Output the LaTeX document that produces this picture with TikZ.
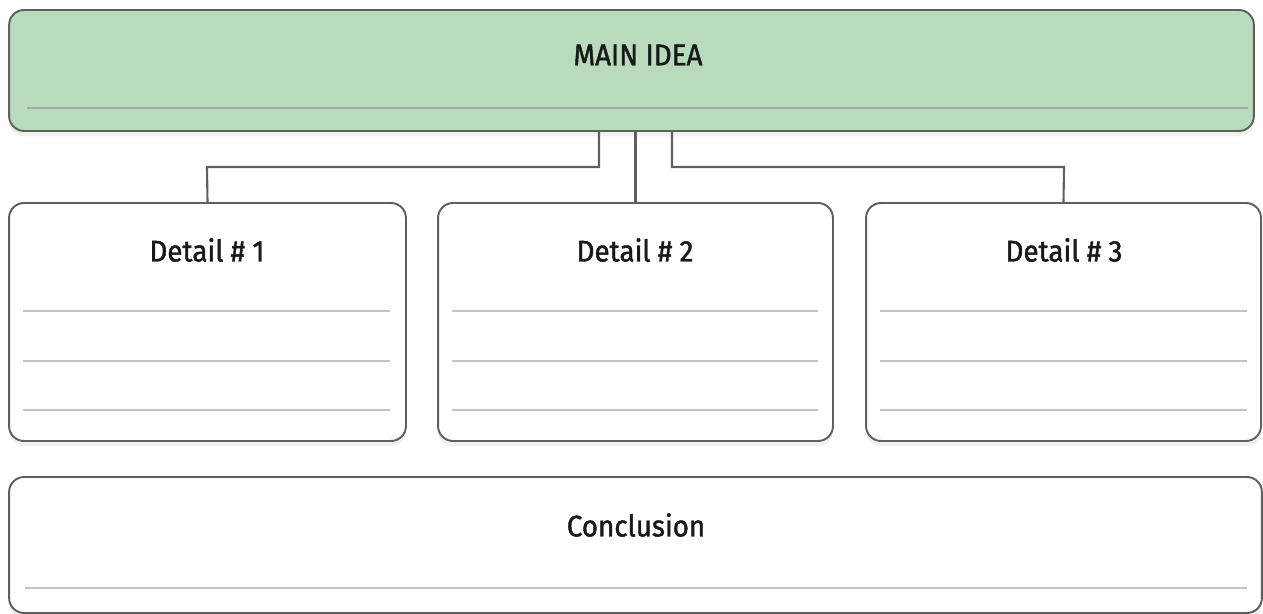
\documentclass[tikz,border=0pt]{standalone}
\usepackage{fontspec}
\setmainfont{Fira Sans}[FakeStretch=0.93, FakeBold=1.6]
\newfontfamily\cardfont{Fira Sans}[FakeStretch=0.93, FakeBold=1.4]
\usetikzlibrary{positioning,shadows}
\definecolor{ideagreen}{HTML}{B8DBBB}
\definecolor{boxline}{HTML}{5F5F5F}
\definecolor{ruleline}{HTML}{C4C4C4}
\tikzset{
  card/.style={draw=boxline, line width=1.1pt, rounded corners=8.5pt, fill=white,
    drop shadow={shadow xshift=0pt, shadow yshift=-3pt, opacity=0.12}, inner sep=0pt},
  conn/.style={draw=boxline, line width=1.2pt},
  rule/.style={draw=ruleline, line width=0.7pt},
  title/.style={font=\cardfont\fontsize{17}{20}\selectfont, text=black!90}
}

\begin{document}
\begin{tikzpicture}[x=0.02cm, y=-0.02cm]
\useasboundingbox (0,0) rectangle (1263,614);
% boxes
\node[card, fill=ideagreen, minimum width=24.9cm, minimum height=2.42cm] (main) at (631.5,70.5) {};
\node[card, minimum width=7.94cm, minimum height=4.76cm] (det1) at (207.5,322) {};
\node[card, minimum width=7.9cm, minimum height=4.76cm] (det2) at (635.5,322) {};
\node[card, minimum width=7.9cm, minimum height=4.76cm] (det3) at (1063.5,322) {};
\node[card, minimum width=25.06cm, minimum height=2.72cm] (concl) at (635.5,545) {};
%
\node[title] (maintxt) at (638,55) {MAIN IDEA};
\node[title] (txt1) at (207,250) {Detail \# 1};
\node[title] (txt2) at (635,250) {Detail \# 2};
\node[title] (txt3) at (1064,250) {Detail \# 3};
\node[title] (concltxt) at (636,525) {Conclusion};
%
\draw[draw=black!35, line width=0.7pt] (27,108) -- (1248,108);
\foreach \y in {311,361,410} {
  \draw[rule] (23,\y) -- (390,\y);
  \draw[rule] (452,\y) -- (818,\y);
  \draw[rule] (880,\y) -- (1247,\y);
}
\draw[rule] (25,588) -- (1247,588);
% connectors
\draw[conn] (main.south -| 599,0) |- (207,167) -- (det1.north);
\draw[conn] (main.south -| det2.north) -- (det2.north);
\draw[conn] (main.south -| 672,0) |- (1064,167) -- (det3.north);
\end{tikzpicture}
\end{document}
